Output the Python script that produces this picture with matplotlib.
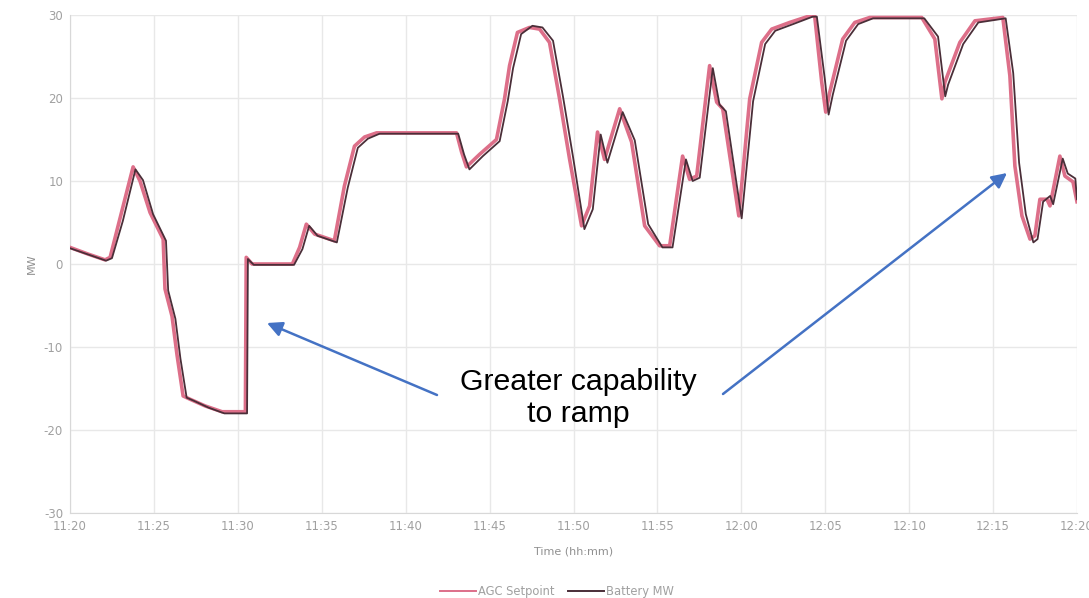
import matplotlib
matplotlib.use("Agg")
import matplotlib.pyplot as plt

plt.rcParams["axes.unicode_minus"] = False

# minutes after 11:20
agc_minutes = [0.0, 1.07, 2.09, 2.39, 2.98, 3.76, 4.17, 4.77, 5.55, 5.66, 6.08, 6.38, 6.74,
               7.16, 8.05, 9.06, 10.45, 10.50, 10.85, 13.25, 13.68, 14.08, 14.58, 15.75,
               16.35, 16.95, 17.55, 18.27, 23.03, 23.33, 23.62, 24.40, 25.41, 25.89, 26.19,
               26.66, 27.38, 27.98, 28.57, 29.17, 29.77, 30.48, 30.96, 31.43, 31.85, 32.75,
               33.46, 34.24, 35.13, 35.73, 36.50, 36.92, 37.34, 38.11, 38.53, 38.89, 39.85,
               40.50, 41.21, 41.81, 42.88, 44.08, 44.37, 44.79, 45.03, 45.27, 46.04, 46.76,
               47.65, 50.75, 51.53, 51.95, 52.13, 53.02, 53.92, 55.58, 56.00, 56.30, 56.72,
               57.20, 57.49, 57.79, 58.21, 58.39, 58.98, 59.28, 59.76, 60.0]
agc_mw = [2.0, 1.2, 0.5, 0.8, 5.5, 11.7, 10.0, 6.2, 3.0, -3.0, -6.3, -11.0, -15.9,
          -16.3, -17.1, -17.8, -17.8, 0.8, 0.0, 0.0, 2.0, 4.8, 3.6, 2.8,
          9.4, 14.2, 15.3, 15.8, 15.8, 13.5, 11.7, 13.2, 15.0, 19.9, 23.9,
          27.9, 28.5, 28.3, 26.7, 19.9, 12.6, 4.6, 7.0, 15.9, 12.6, 18.7,
          14.7, 4.6, 2.2, 2.2, 13.0, 10.2, 10.6, 23.9, 19.5, 18.7, 5.8,
          19.9, 26.7, 28.3, 29.1, 29.9, 29.9, 21.9, 18.3, 20.7, 27.1, 29.1,
          29.7, 29.7, 27.1, 19.9, 21.9, 26.7, 29.3, 29.7, 22.7, 11.8, 5.8,
          3.0, 3.4, 7.8, 7.8, 7.0, 13.0, 10.6, 9.9, 7.5]

battery_minutes = [0.0, 1.15, 2.15, 2.50, 3.15, 3.90, 4.35, 4.95, 5.72, 5.85, 6.28, 6.58, 6.95,
                   7.40, 8.25, 9.20, 10.55, 10.60, 10.95, 13.35, 13.85, 14.25, 14.75, 15.90,
                   16.55, 17.15, 17.75, 18.45, 23.13, 23.48, 23.80, 24.60, 25.60, 26.08, 26.40,
                   26.88, 27.55, 28.15, 28.78, 29.38, 29.98, 30.65, 31.15, 31.62, 32.02, 32.93,
                   33.65, 34.45, 35.30, 35.90, 36.70, 37.10, 37.52, 38.30, 38.70, 39.08, 40.02,
                   40.70, 41.42, 42.02, 43.08, 44.25, 44.50, 44.98, 45.20, 45.45, 46.24, 46.96,
                   47.85, 50.90, 51.72, 52.15, 52.32, 53.22, 54.12, 55.75, 56.20, 56.55, 56.95,
                   57.40, 57.65, 57.98, 58.40, 58.58, 59.15, 59.45, 59.90, 60.0]
battery_mw = [1.9, 1.1, 0.4, 0.7, 5.2, 11.4, 10.1, 6.0, 2.8, -3.2, -6.6, -11.4, -16.1,
              -16.5, -17.3, -18.0, -18.0, 0.6, -0.1, -0.1, 1.8, 4.6, 3.4, 2.6,
              9.2, 14.0, 15.1, 15.7, 15.7, 13.2, 11.4, 13.0, 14.8, 19.6, 23.6,
              27.7, 28.7, 28.5, 26.9, 20.1, 12.8, 4.2, 6.6, 15.6, 12.2, 18.3,
              14.9, 4.8, 2.0, 2.0, 12.6, 10.0, 10.4, 23.6, 19.2, 18.4, 5.5,
              19.6, 26.5, 28.1, 28.9, 29.8, 29.8, 22.2, 18.0, 20.4, 26.9, 28.9,
              29.6, 29.6, 27.4, 20.2, 21.6, 26.5, 29.1, 29.6, 23.0, 12.2, 6.0,
              2.6, 3.0, 7.5, 8.2, 7.2, 12.7, 10.9, 10.3, 7.8]

x_ticks = [0, 5, 10, 15, 20, 25, 30, 35, 40, 45, 50, 55, 60]
x_labels = ["11:20", "11:25", "11:30", "11:35", "11:40", "11:45", "11:50",
            "11:55", "12:00", "12:05", "12:10", "12:15", "12:20"]
y_ticks = [-30, -20, -10, 0, 10, 20, 30]

fig = plt.figure(figsize=(10.89, 5.98), dpi=100)
ax = fig.add_axes([70 / 1089, 1 - 513 / 598, (1077 - 70) / 1089, (513 - 15) / 598])

ax.plot(agc_minutes, agc_mw, color="#dd6f89", lw=2.6, label="AGC Setpoint", zorder=3)
ax.plot(battery_minutes, battery_mw, color="#4a2e38", lw=1.3, label="Battery MW", zorder=4)

ax.set_xlim(0, 60)
ax.set_ylim(-30, 30)
ax.set_xticks(x_ticks)
ax.set_xticklabels(x_labels)
ax.set_yticks(y_ticks)
ax.grid(True, color="#e8e8e8", lw=1.0)
ax.set_axisbelow(True)
for s in ["top", "right"]:
    ax.spines[s].set_visible(False)
for s in ["left", "bottom"]:
    ax.spines[s].set_color("#d8d8d8")
ax.tick_params(axis="both", length=0, labelsize=8.5, colors="#a0a0a0", pad=5)
ax.set_xlabel("Time (hh:mm)", fontsize=8, color="#909090", labelpad=10)
ax.set_ylabel("MW", fontsize=8, color="#909090", labelpad=5)

leg = ax.legend(loc="center", bbox_to_anchor=((557 - 70) / 1007, (513 - 592) / 498), ncol=2,
                frameon=False, fontsize=8.3, labelcolor="#a0a0a0", handlelength=3.1,
                columnspacing=1.2, handletextpad=0.15)
for h in leg.get_lines():
    h.set_linewidth(1.4)

# annotation
ax.text((578.5 - 70) / 1007, (513 - 398) / 498, "Greater capability\nto ramp",
        transform=ax.transAxes, ha="center", va="center", fontsize=21.8,
        family="Liberation Sans", linespacing=1.2, color="black")
arrow_kw = dict(arrowstyle="-|>,head_length=0.9,head_width=0.45", color="#4472c4", lw=1.8,
                shrinkA=0, shrinkB=0)
ax.annotate("", xy=((267 - 70) / 1007, (513 - 323) / 498), xycoords="axes fraction",
            xytext=((437 - 70) / 1007, (513 - 395) / 498), textcoords="axes fraction",
            arrowprops=arrow_kw)
ax.annotate("", xy=((1007 - 70) / 1007, (513 - 173) / 498), xycoords="axes fraction",
            xytext=((723 - 70) / 1007, (513 - 394) / 498), textcoords="axes fraction",
            arrowprops=arrow_kw)

fig.savefig("out.png", dpi=100)
